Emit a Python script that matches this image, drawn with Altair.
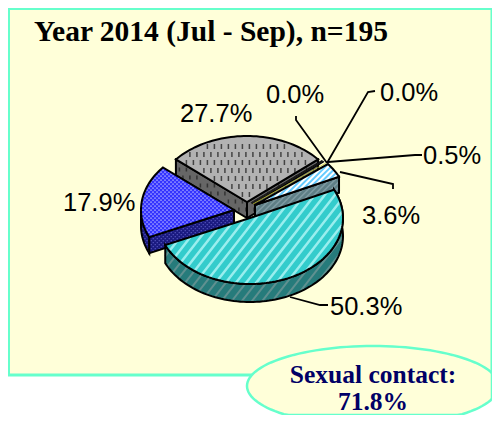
import math
import altair as alt
import pandas as pd

# ---- data ----
values = [27.7, 0.0, 0.0, 0.5, 3.6, 50.3, 17.9]
slice_labels = ["27.7%", "0.0%", "0.0%", "0.5%", "3.6%", "50.3%", "17.9%"]
title_text = "Year 2014 (Jul - Sep), n=195"
callout_lines = ["Sexual contact:", "71.8%"]

# ---- layout (page pixels; add() removes the 8px page margin) ----
RX, RY = 93, 66
START = -values[0] * 3.6 / 2
CENTERS = [(247, 202), (251, 203), (252, 203.5), (253, 204), (255, 205), (250, 218), (234, 210)]
DEPTHS = [16, 16, 16, 16, 16, 18, 16]
LABEL_X = [180, 266, 380, 423, 362, 330, 63]
LABEL_Y = [122, 103, 101, 164, 224, 315, 211]
LEADERS = [
    [(296, 116), (296, 120), (327, 163)],
    [(375, 91), (368, 92), (327, 163)],
    [(422, 155), (415, 155), (328, 162)],
    [(340, 172), (393, 184), (393, 189)],
    [(290, 297), (320, 305), (328, 305)],
]
BG, EDGE = "#FFFFD9", "#66FFCC"
W, H = 484, 407

features = []


def add(kind, coords, fill="transparent", stroke="transparent", w=0.0):
    def shift(c):
        if isinstance(c[0], (int, float)):
            return [c[0] - 8, c[1] - 8]
        return [shift(q) for q in c]

    features.append({
        "type": "Feature",
        "geometry": {"type": kind, "coordinates": shift(coords)},
        "properties": {"fill": fill, "stroke": stroke, "w": w},
    })


def closed(p):
    return [[list(q) for q in p] + [list(p[0])]]


def rim(c, t):
    a = math.radians(t)
    return (c[0] + RX * math.sin(a), c[1] - RY * math.cos(a))


def arc(c, t0, t1):
    n = max(2, int(abs(t1 - t0) / 2) + 2)
    return [rim(c, t0 + (t1 - t0) * i / (n - 1)) for i in range(n)]


def stripes(poly, angle, gap, phase=0.0):
    a = math.radians(angle)
    ca, sa = math.cos(a), math.sin(a)
    uv = [(x * ca + y * sa, -x * sa + y * ca) for x, y in poly]
    vs = [q[1] for q in uv]
    v = math.floor(min(vs) / gap) * gap + phase
    segs = []
    while v < max(vs):
        hits = []
        for i in range(len(uv)):
            p, q = uv[i], uv[(i + 1) % len(uv)]
            if (p[1] <= v) != (q[1] <= v):
                hits.append(p[0] + (v - p[1]) / (q[1] - p[1]) * (q[0] - p[0]))
        hits.sort()
        for h0, h1 in zip(hits[::2], hits[1::2]):
            segs.append([[h0 * ca - v * sa, h0 * sa + v * ca], [h1 * ca - v * sa, h1 * sa + v * ca]])
        v += gap
    return segs


def inside(poly, x, y):
    r = False
    for i in range(len(poly)):
        p, q = poly[i], poly[(i + 1) % len(poly)]
        if (p[1] > y) != (q[1] > y) and x < p[0] + (y - p[1]) / (q[1] - p[1]) * (q[0] - p[0]):
            r = not r
    return r


def dashes(poly, dx, dy, length):
    xs = [p[0] for p in poly]
    ys = [p[1] for p in poly]
    segs = []
    row = 0
    y = min(ys)
    while y < max(ys):
        x = min(xs) + (dx / 2 if row % 2 else 0)
        while x < max(xs):
            if inside(poly, x, y) and inside(poly, x, y + length):
                segs.append([[x, y], [x, y + length]])
            x += dx
        y += dy
        row += 1
    return segs


def face(poly, fill, pattern=None, pat_color=None, pat_w=0.0):
    add("Polygon", closed(poly), fill=fill)
    if pattern:
        add("MultiLineString", pattern, stroke=pat_color, w=pat_w)
    add("Polygon", closed(poly), stroke="#000000", w=2.0)


# invisible frame: it makes the identity projection's fit come out at scale 1
add("Polygon", closed([(8, 8), (8 + W, 8), (8 + W, 8 + H), (8, 8 + H)]))

# panel and callout
add("Polygon", closed([(8.5, 8.5), (8 + W, 8.5), (8 + W, 375), (8.5, 375)]), fill=BG, stroke=EDGE, w=3.0)
ell = [(min(8 + W, 373 + 126 * math.cos(math.radians(a))), min(8 + H, 386 + 40 * math.sin(math.radians(a))))
       for a in range(0, 360, 3)]
add("Polygon", closed(ell), fill=BG, stroke=EDGE, w=2.5)

# wedge angles from the values
angles = []
t = START
for v in values:
    angles.append((t, t + v * 3.6))
    t += v * 3.6


def extrude(pts, d):
    return list(pts) + [(x, y + d) for x, y in reversed(pts)]


# grey 27.7 %
c, d = CENTERS[0], DEPTHS[0]
t0, t1 = angles[0]
for e in (t0, t1):
    p = extrude([c, rim(c, e)], d)
    face(p, "#666666", dashes(p, 7, 8, 4), "#333333", 1.5)
p = [c] + arc(c, t0, t1)
face(p, "#B2B2B2", dashes(p, 7, 8, 5), "#444444", 1.5)

# hairline slices 0.0 %, 0.0 %, 0.5 %
for i, col in zip((1, 2, 3), ("#333333", "#333333", "#CCCC33")):
    c = CENTERS[i]
    t0, t1 = angles[i]
    t1 = max(t1, t0 + 0.4)
    add("LineString", [list(c), list(rim(c, t0))], stroke="#000000", w=1.2)
    add("LineString", [list(c), list(rim(c, t1))], stroke=col, w=0.8)

# light blue 3.6 %
c, d = CENTERS[4], DEPTHS[4]
t0, t1 = angles[4]
p = extrude([c, rim(c, t1)], d)
face(p, "#5F7F86", stripes(p, -45, 4), "#7F9BA3", 1.5)
p = [c] + arc(c, t0, t1)
face(p, "#FFFFFF", stripes(p, -45, 4), "#66CCFF", 2.0)

# blue 17.9 %
c, d = CENTERS[6], DEPTHS[6]
t0, t1 = angles[6]
p = extrude(arc(c, t0, 270), d)
face(p, "#1A1A80", dashes(p, 4, 2, 1.2), "#5555BB", 1.2)
p = extrude([c, rim(c, t0)], d)
face(p, "#1A1A80", dashes(p, 4, 2, 1.2), "#5555BB", 1.2)
p = [c] + arc(c, t0, t1)
face(p, "#3333FF", dashes(p, 4, 2, 1.3), "#CCCCFF", 1.3)

# turquoise 50.3 %
c, d = CENTERS[5], DEPTHS[5]
t0, t1 = angles[5]
p = extrude(arc(c, t0, t1), d)
face(p, "#267B7B", stripes(p, -52, 8), "#5F9090", 2.0)
p = [c] + arc(c, t0, t1)
face(p, "#33CCCC", stripes(p, -52, 8), "#99EEEE", 2.5)

# leader lines
for line in LEADERS:
    add("LineString", [list(q) for q in line], stroke="#000000", w=1.8)

shapes = alt.Chart(alt.Data(values=features)).mark_geoshape().encode(
    fill=alt.Fill("properties.fill:N", scale=None),
    stroke=alt.Stroke("properties.stroke:N", scale=None),
    strokeWidth=alt.StrokeWidth("properties.w:Q", scale=None),
).project(type="identity")


def text_layer(rows, font, size, color, align="left", weight="normal"):
    return alt.Chart(pd.DataFrame(rows)).mark_text(
        font=font, fontSize=size, fontWeight=weight, align=align, baseline="alphabetic", color=color
    ).encode(x=alt.X("x:Q", scale=None, axis=None), y=alt.Y("y:Q", scale=None, axis=None), text="t:N")


label_layer = text_layer(
    {"t": slice_labels, "x": [v - 8 for v in LABEL_X], "y": [v - 8 for v in LABEL_Y]},
    "Liberation Sans", 25.5, "#000000",
)
title_layer = text_layer(
    {"t": [title_text], "x": [34 - 8], "y": [41 - 8]},
    "Liberation Serif", 29.5, "#000000", weight="bold",
)
call_layer = text_layer(
    {"t": callout_lines, "x": [373 - 8] * 2, "y": [383 - 8, 410 - 8]},
    "Liberation Serif", 25.5, "#000066", align="center", weight="bold",
)

chart = alt.layer(shapes, label_layer, title_layer, call_layer).properties(
    width=W, height=H, padding=0, autosize=alt.AutoSizeParams(type="none")
).configure_view(stroke=None)

chart.save("out.html", embed_options={"renderer": "svg", "actions": False})
